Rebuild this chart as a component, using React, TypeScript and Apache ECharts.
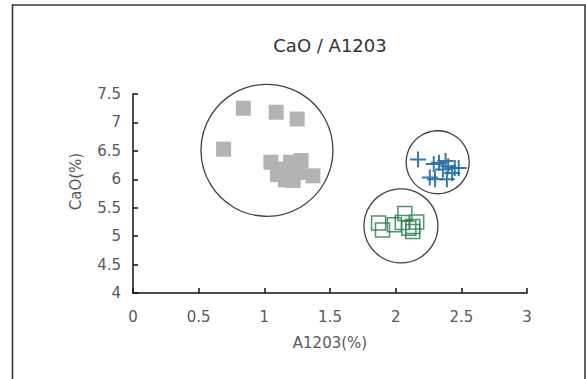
import React, { useEffect, useRef } from "react";
import * as echarts from "echarts";

const title = "CaO / A1203";
const xName = "A1203(%)";
const yName = "CaO(%)";

const grayPoints: [number, number][] = [
  [0.84, 7.25], [1.09, 7.18], [1.25, 7.06], [0.69, 6.53],
  [1.05, 6.30], [1.20, 6.30], [1.28, 6.33], [1.10, 6.08],
  [1.16, 5.99], [1.22, 5.98], [1.37, 6.06], [1.27, 6.12],
  [1.15, 6.18], [1.24, 6.22],
];
const bluePoints: [number, number][] = [
  [2.17, 6.35], [2.29, 6.27], [2.33, 6.29], [2.38, 6.32],
  [2.40, 6.23], [2.45, 6.20], [2.48, 6.20], [2.43, 6.11],
  [2.30, 6.00], [2.26, 6.03], [2.39, 6.00], [2.36, 6.17],
];
const greenPoints: [number, number][] = [
  [1.87, 5.23], [1.90, 5.11], [1.99, 5.20], [2.05, 5.24],
  [2.07, 5.40], [2.16, 5.25], [2.13, 5.17], [2.13, 5.08],
  [2.10, 5.14],
];
// group outlines: [x, y, diameter in px]
const groupCircles: [number, number, number][] = [
  [1.02, 6.51, 132],
  [2.32, 6.30, 63],
  [2.04, 5.18, 74],
];

const FONT = "DejaVu Sans";
const CROSS = "path://M0,7H16V9H0Z M7,0H9V16H7Z";

export default function App() {
  const ref = useRef<HTMLDivElement>(null);
  useEffect(() => {
    if (!ref.current) return;
    const chart = echarts.init(ref.current, null, { renderer: "svg" });
    chart.setOption({
      animation: false,
      backgroundColor: "#ffffff",
      title: {
        text: title,
        left: 325,
        top: 31,
        textAlign: "center",
        textStyle: { fontFamily: FONT, fontSize: 18, fontWeight: "normal", color: "#333333" },
      },
      graphic: [
        {
          type: "rect",
          shape: { x: 12.5, y: 5, width: 572.5, height: 390 },
          style: { fill: "none", stroke: "#3a3a3a", lineWidth: 1.6 },
          silent: true,
        },
      ],
      grid: { left: 133, right: 59, top: 94, bottom: 86, containLabel: false },
      xAxis: {
        type: "value",
        min: 0,
        max: 3,
        interval: 0.5,
        name: xName,
        nameLocation: "middle",
        nameGap: 42,
        nameTextStyle: { fontFamily: FONT, fontSize: 15, color: "#595959" },
        axisLine: { show: true, onZero: false, lineStyle: { color: "#111111", width: 1.5 } },
        axisTick: { show: true, inside: true, length: 5, lineStyle: { color: "#111111", width: 1.5 } },
        axisLabel: { margin: 16, fontFamily: FONT, fontSize: 15, color: "#595959" },
        splitLine: { show: false },
      },
      yAxis: {
        type: "value",
        min: 4,
        max: 7.5,
        interval: 0.5,
        name: yName,
        nameLocation: "middle",
        nameGap: 50,
        nameTextStyle: { fontFamily: FONT, fontSize: 15, color: "#595959", padding: [0, 0, 0, 24] },
        axisLine: { show: true, onZero: false, lineStyle: { color: "#111111", width: 1.5 } },
        axisTick: { show: true, inside: true, length: 5, lineStyle: { color: "#111111", width: 1.5 } },
        axisLabel: { margin: 12, fontFamily: FONT, fontSize: 15, color: "#595959" },
        splitLine: { show: false },
      },
      series: [
        {
          type: "scatter",
          data: grayPoints,
          symbol: "rect",
          symbolSize: 15,
          itemStyle: { color: "#b3b3b3", opacity: 1 },
        },
        {
          type: "scatter",
          data: greenPoints,
          symbol: "rect",
          symbolSize: 14,
          itemStyle: { color: "rgba(0,0,0,0)", borderColor: "#2f8050", borderWidth: 1.5, opacity: 0.85 },
        },
        {
          type: "scatter",
          data: bluePoints,
          symbol: CROSS,
          symbolSize: 16,
          itemStyle: { color: "#1f6ea3", opacity: 0.9 },
        },
        {
          type: "scatter",
          data: groupCircles.map((c) => [c[0], c[1], c[2]]),
          symbol: "circle",
          symbolSize: (v: number[]) => v[2],
          itemStyle: { color: "rgba(0,0,0,0)", borderColor: "#111111", borderWidth: 1.3 },
          silent: true,
        },
      ],
    });
    return () => chart.dispose();
  }, []);
  return (
    <div
      ref={ref}
      style={{ position: "absolute", left: 0, top: 0, width: 586, height: 379 }}
    />
  );
}
